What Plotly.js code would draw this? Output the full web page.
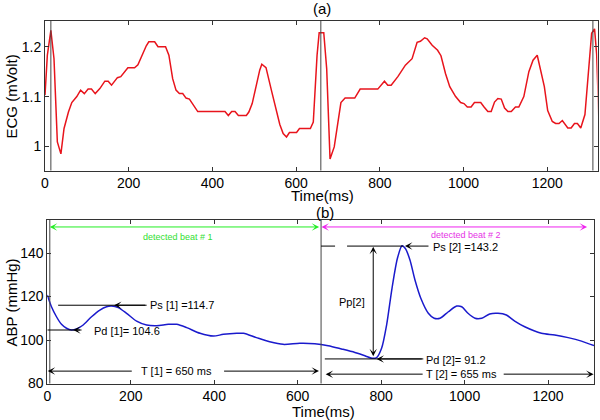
<!DOCTYPE html>
<html>
<head>
<meta charset="utf-8">
<script src="https://cdn.plot.ly/plotly-3.0.1.min.js"></script>
<style>html,body{margin:0;padding:0;background:#fff}#chart{width:600px;height:420px}</style>
</head>
<body>
<div id="chart"></div>
<script>
// ---------- data ----------
const ecgT = [0,5.6,14,21.5,29.5,38,45.5,56,64,76,85,94,103,111,120,131,143,151,159,173,181,198,214,222,242,248,262,270,288,296,305,313,321,329,337,345,365,430,438,446,454,462,481,487,495,506,513,518,528,542,553,561,569,577,584,601,608,634,641,650,655,666,673,681,691,699,707,717,740,753,795,811,819,827,843,861,877,889,897,907,913,925,938,946,957,967,981,993,1001,1009,1018,1026,1041,1049,1058,1066,1074,1082,1090,1098,1106,1114,1124,1132,1144,1156,1166,1176,1184,1193,1201,1212,1220,1228,1236,1249,1257,1265,1272,1280,1290,1300,1306,1313,1318,1323];
const ecgV = [1.103,1.183,1.233,1.176,1.009,0.985,1.036,1.069,1.088,1.100,1.113,1.106,1.115,1.115,1.106,1.116,1.131,1.131,1.123,1.138,1.140,1.158,1.158,1.164,1.202,1.210,1.210,1.200,1.200,1.183,1.136,1.113,1.106,1.106,1.097,1.095,1.070,1.070,1.062,1.070,1.070,1.062,1.062,1.069,1.086,1.130,1.153,1.165,1.158,1.109,1.072,1.044,1.026,1.019,1.028,1.028,1.036,1.036,1.049,1.183,1.228,1.228,1.156,0.975,0.999,1.049,1.088,1.097,1.097,1.115,1.115,1.131,1.123,1.123,1.140,1.163,1.176,1.209,1.211,1.218,1.216,1.203,1.193,1.182,1.146,1.120,1.100,1.088,1.086,1.079,1.079,1.088,1.088,1.079,1.070,1.070,1.089,1.096,1.095,1.077,1.070,1.070,1.079,1.079,1.100,1.150,1.173,1.183,1.153,1.120,1.072,1.050,1.046,1.046,1.052,1.037,1.037,1.046,1.046,1.037,1.064,1.156,1.227,1.236,1.185,1.06];

const abpT = [0,10,22,34,46,58,70,86,106,126,142,154,170,190,214,238,262,290,310,334,366,398,422,454,470,501,533,565,605,641,673,705,737,761,778,789,801,813,826,839,850,858,869,881,895,913,927,941,961,981,993,1008,1025,1041,1060,1080,1100,1120,1144,1184,1216,1248,1280,1310];
const abpV = [120.7,115.3,110.7,107.2,105.4,104.6,105.1,106.9,110.7,113.8,115.3,115.6,114.9,112.3,108.7,106.9,106.6,107.2,107.2,105.7,103.1,101.8,102.6,103.1,103.1,101.1,99.2,98.0,98.5,98.3,97.4,95.9,94.3,92.8,91.6,91.9,96.2,106.9,123.8,137.6,143.4,142.1,136.8,127.6,119.2,112.3,110.0,110.0,113.0,115.6,115.3,112.3,110.0,110.0,112.0,112.3,111.5,108.7,106.1,103.1,102.3,101.1,99.5,97.4];

const xTickVals = [0,200,400,600,800,1000,1200];
const ecgTickVals = [1,1.1,1.2];
const ecgTickText = ['1','1.1','1.2'];
const abpTickVals = [80,100,120,140];

const ecgMarkers = [14,659,1309];
const beatBounds = [6,656];

const labels = {
  a:'(a)', b:'(b)', time:'Time(ms)', ecg:'ECG (mVolt)', abp:'ABP (mmHg)',
  beat1:'detected beat # 1', beat2:'detected beat # 2',
  ps1:'Ps [1] =114.7', pd1:'Pd [1]= 104.6', t1:'T [1] = 650 ms',
  ps2:'Ps [2] =143.2', pd2:'Pd [2]= 91.2', t2:'T [2] = 655 ms', pp2:'Pp[2]'
};

// ---------- styling ----------
const FONT = 'Liberation Sans, Arial, sans-serif';
const frame = '#333333';
function axisBase(extra){
  return Object.assign({
    showline:true, linecolor:frame, linewidth:1, mirror:'ticks',
    ticks:'inside', ticklen:4, tickwidth:1, tickcolor:frame,
    showgrid:false, zeroline:false,
    tickfont:{family:FONT, size:14, color:'#000'}
  }, extra);
}

const traces = [
  {x:ecgT, y:ecgV, xaxis:'x', yaxis:'y', type:'scatter', mode:'lines',
   line:{color:'#e8141c', width:1.5}, hoverinfo:'skip'},
  {x:abpT, y:abpV, xaxis:'x2', yaxis:'y2', type:'scatter', mode:'lines',
   line:{color:'#1a1acc', width:1.5, shape:'spline', smoothing:0.8}, hoverinfo:'skip'}
];

const shapes = [];
ecgMarkers.forEach(t => shapes.push({type:'line', xref:'x', yref:'y domain', x0:t, x1:t, y0:0, y1:1, line:{color:'#444', width:1}}));
beatBounds.forEach(t => shapes.push({type:'line', xref:'x2', yref:'y2 domain', x0:t, x1:t, y0:0, y1:1, line:{color:'#444', width:1}}));
function hline(x0,x1,y,dash){ shapes.push({type:'line', xref:'x2', yref:'y2', x0:x0, x1:x1, y0:y, y1:y, line:{color:'#000', width:1, dash:dash||'solid'}}); }
hline(26,238,116);
hline(0,82,104.6);
hline(665,901,91.3);
hline(656,853,143.2,'14px,12px,200px');

const ann = [];
function paperText(txt,px,py,size,angle){
  ann.push({text:txt, xref:'paper', yref:'paper', x:px/600, y:1-py/420, xanchor:'center', yanchor:'middle', showarrow:false, textangle:angle||0, font:{family:FONT, size:size, color:'#000'}});
}
paperText(labels.a,321.7,8.5,15);
paperText(labels.time,322,195,15);
paperText(labels.b,324.5,212,15);
paperText(labels.time,323,411,15);
paperText(labels.ecg,10.5,97,15,-90);
paperText(labels.abp,10.5,303,15,-90);

function arrow(x,y,ax,ay,color,dbl){
  const o = {text:'', xref:'x2', yref:'y2', axref:'x2', ayref:'y2', x:x, y:y, ax:ax, ay:ay,
    showarrow:true, arrowhead:3, arrowsize:1.25, arrowwidth:1, arrowcolor:color||'#000'};
  if(dbl){ o.arrowside='end+start'; o.startarrowhead=3; o.startarrowsize=1.25; }
  ann.push(o);
}
function dataText(txt,x,y,anchor,size,color){
  ann.push({text:txt, xref:'x2', yref:'y2', x:x, y:y, xanchor:anchor, yanchor:'middle', showarrow:false, font:{family:FONT, size:size, color:color||'#000'}});
}
arrow(6,152,655,152,'#22ee22',true);
arrow(657,152,1297,152,'#ee22ee',true);
dataText(labels.beat1,312,147.6,'center',9,'#33e033');
dataText(labels.beat2,1003,148.3,'center',9,'#e633e6');

arrow(160,116,238,116);
dataText(labels.ps1,241,116,'left',11);
arrow(62,104.6,82,104.6);
dataText(labels.pd1,108,104.1,'left',11);

arrow(1,85.7,206,85.7);
arrow(651,85.7,420,85.7);
dataText(labels.t1,309,85.7,'center',11);

arrow(667,84.3,903,84.3);
arrow(1309,84.3,1090,84.3);
dataText(labels.t2,992,84.3,'center',11);

arrow(857,143.2,917,143.2);
dataText(labels.ps2,919,142.6,'left',11);
arrow(781,142.9,781,91.9,'#000',true);
dataText(labels.pp2,767,117.3,'right',11);
arrow(789,91.3,901,91.3);
dataText(labels.pd2,902,91.0,'left',11);

const layout = {
  width:600, height:420, margin:{l:0,r:0,t:0,b:0},
  paper_bgcolor:'#fff', plot_bgcolor:'#fff', showlegend:false,
  xaxis: axisBase({domain:[45/600, 597.5/600], range:[0,1320], anchor:'y', tickvals:xTickVals}),
  yaxis: axisBase({domain:[(420-170.5)/420, (420-21)/420], range:[0.9517,1.2517], anchor:'x', tickvals:ecgTickVals, ticktext:ecgTickText}),
  xaxis2: axisBase({domain:[47.3/600, 594/600], range:[0,1310], anchor:'y2', tickvals:xTickVals}),
  yaxis2: axisBase({domain:[(420-383.5)/420, (420-220)/420], range:[80,155.2], anchor:'x2', tickvals:abpTickVals}),
  shapes:shapes, annotations:ann
};

Plotly.newPlot('chart', traces, layout, {staticPlot:true, displayModeBar:false});
</script>
</body>
</html>
